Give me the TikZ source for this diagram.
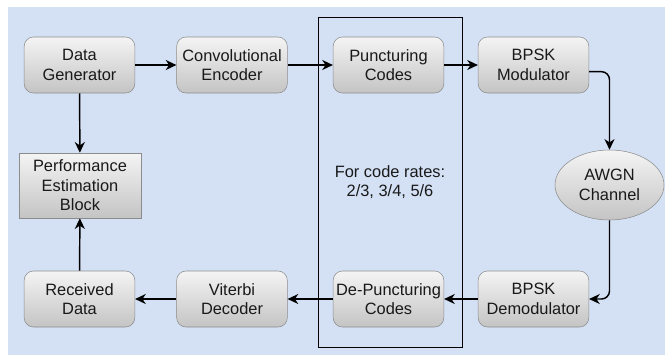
\documentclass[tikz,border=0pt]{standalone}
\usepackage{fontspec}
\setmainfont{Liberation Sans}
\usetikzlibrary{arrows.meta,shapes.geometric}
\definecolor{bgblue}{HTML}{D4E1F5}
\definecolor{boxtop}{HTML}{F4F4F4}
\definecolor{boxbot}{HTML}{C4C4C4}
\definecolor{boxline}{HTML}{8C8C8C}
\begin{document}
\begin{tikzpicture}[x=0.75pt,y=-0.75pt,
  font=\fontsize{12.3}{14.6}\selectfont,
  block/.style={draw=boxline, top color=boxtop, bottom color=boxbot,
    rounded corners=7pt, minimum width=83pt, minimum height=42pt,
    align=center, inner sep=1pt, text=black!90},
  flatblock/.style={block, rounded corners=0pt, minimum width=91.5pt, minimum height=48.75pt},
  channel/.style={draw=boxline, top color=boxtop, bottom color=boxbot, ellipse,
    minimum width=81.75pt, minimum height=52.5pt, inner sep=0pt, align=center, text=black!90},
  flow/.style={-{Stealth[length=8pt,width=7.5pt,inset=2.5pt]}, line width=1.1pt}]
\useasboundingbox (0,0) rectangle (665,355);
\fill[bgblue] (8,7) rectangle (665,355);

% rate box
\draw[line width=0.7pt] (318,17) rectangle (462,347);
\node[align=center, text=black!90] (rates) at (390,182) {For code rates:\\2/3, 3/4, 5/6};

% top row
\node[block] (gen) at (79.5,65) {Data\\Generator};
\node[block] (enc) at (232,65) {Convolutional\\Encoder};
\node[block] (punc) at (388.5,65) {Puncturing\\Codes};
\node[block] (mod) at (533.5,65) {BPSK\\Modulator};

\node[channel] (awgn) at (609.5,185) {AWGN\\Channel};
\node[flatblock] (perf) at (80,185.5) {Performance\\Estimation\\Block};

% bottom row
\node[block] (rec) at (79.5,299) {Received\\Data};
\node[block] (vit) at (232,299) {Viterbi\\Decoder};
\node[block] (depunc) at (388.5,299) {De-Puncturing\\Codes};
\node[block] (demod) at (533.5,299) {BPSK\\Demodulator};

\draw[flow] (gen) -- (enc);
\draw[flow] (enc) -- (punc);
\draw[flow] (punc) -- (mod);
\draw[flow, rounded corners=6pt] ([yshift=-5pt]mod.east) -| (awgn.north);
\draw[flow, rounded corners=6pt] (awgn.south) |- (demod.east);
\draw[flow] (demod) -- (depunc);
\draw[flow] (depunc) -- (vit);
\draw[flow] (vit) -- (rec);
\draw[flow] (gen) -- (perf);
\draw[flow] (rec) -- (perf);
\end{tikzpicture}
\end{document}
